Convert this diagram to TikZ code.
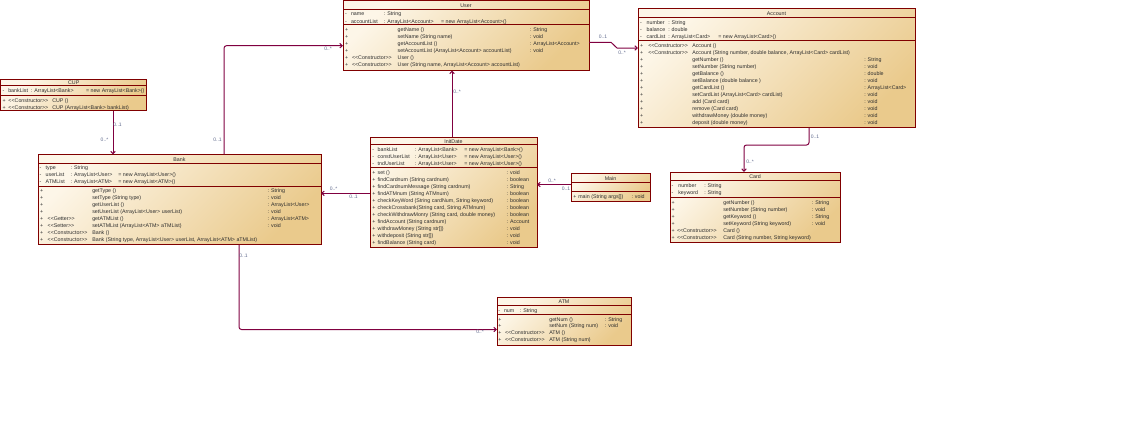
\documentclass[tikz,border=0pt]{standalone}
\usepackage{fontspec}
\setmainfont{Liberation Sans}[Ligatures=TeXOff]
\usetikzlibrary{arrows.meta}
\definecolor{boxred}{RGB}{128,0,0}
\definecolor{fillA}{RGB}{253,246,232}
\definecolor{fillB}{RGB}{234,202,140}
\definecolor{connc}{RGB}{128,0,64}
\definecolor{txtc}{RGB}{45,45,45}
\definecolor{multc}{RGB}{95,105,140}
\newcounter{tno}
\newcommand{\sz}{\fontsize{5.3}{6.5}\selectfont}
\newcommand{\msz}{\fontsize{5}{6}\selectfont}
\newcommand{\tx}[3]{\stepcounter{tno}\node[txt] (t\arabic{tno}) at (#1,#2) {#3};}
\newcommand{\sepl}[2]{\draw[sep] ([yshift=-#2pt]#1.north west) -- ([yshift=-#2pt]#1.north east);}
\tikzset{
  classbox/.style={draw=boxred, line width=0.9pt, top color=fillA, bottom color=fillB, shading angle=45, inner sep=0pt, outer sep=0pt, anchor=north west},
  sep/.style={draw=boxred, line width=0.9pt},
  txt/.style={inner sep=0pt, outer sep=0pt, anchor=mid west, text=txtc, font=\sz},
  ttl/.style={inner sep=0pt, outer sep=0pt, anchor=mid, text=txtc, font=\sz},
  conn/.style={draw=connc, line width=1pt, rounded corners=2.5pt, -{Straight Barb[length=2.5pt,width=4.5pt]}},
  mult/.style={inner sep=0pt, outer sep=0pt, text=multc, font=\msz}
}
\begin{document}
\begin{tikzpicture}[x=1pt, y=-1pt]
\useasboundingbox (0,0) rectangle (1145,432);

% ---------- boxes ----------
\node[classbox, minimum width=246pt, minimum height=70pt] (user) at (343,0.5) {};
\node[classbox, minimum width=277pt, minimum height=119pt] (account) at (638,8.5) {};
\node[classbox, minimum width=146pt, minimum height=31.5pt] (cup) at (0.7,79) {};
\node[classbox, minimum width=283pt, minimum height=90pt] (bank) at (38,154.5) {};
\node[classbox, minimum width=167pt, minimum height=110pt] (initdate) at (370,137) {};
\node[classbox, minimum width=79pt, minimum height=28pt] (main) at (571,173.5) {};
\node[classbox, minimum width=170pt, minimum height=70.5pt] (card) at (670,172) {};
\node[classbox, minimum width=134pt, minimum height=48pt] (atm) at (497,297) {};

\sepl{user}{8.5}\sepl{user}{23.8}
\sepl{account}{8.8}\sepl{account}{32.2}
\sepl{cup}{6}\sepl{cup}{16}
\sepl{bank}{8.8}\sepl{bank}{31.8}
\sepl{initdate}{7.3}\sepl{initdate}{30.7}
\sepl{main}{8.8}\sepl{main}{17.5}
\sepl{card}{8}\sepl{card}{25.5}
\sepl{atm}{8}\sepl{atm}{17.3}

% ---------- User ----------
\node[ttl] (userT) at (466,4.7) {User};
\tx{345}{13.3}{-}\tx{351}{13.3}{name}\tx{384}{13.3}{: String}
\tx{345}{20.7}{-}\tx{351}{20.7}{accountList}\tx{384}{20.7}{: ArrayList<Account>}\tx{441}{20.7}{= new ArrayList<Account>()}
\foreach \yy in {29,36,43,50,57,64}{\tx{345}{\yy}{+}}
\tx{397.7}{29}{getName ()}\tx{530}{29}{: String}
\tx{397.7}{36}{setName (String name)}\tx{530}{36}{: void}
\tx{397.7}{43}{getAccountList ()}\tx{530}{43}{: ArrayList<Account>}
\tx{397.7}{50}{setAccountList (ArrayList<Account> accountList)}\tx{530}{50}{: void}
\tx{352}{57}{<<Constructor>>}\tx{397.7}{57}{User ()}
\tx{352}{64}{<<Constructor>>}\tx{397.7}{64}{User (String name, ArrayList<Account> accountList)}

% ---------- Account ----------
\node[ttl] (accountT) at (776.5,13) {Account};
\tx{640}{21.7}{-}\tx{646.7}{21.7}{number}\tx{668.3}{21.7}{: String}
\tx{640}{29}{-}\tx{646.7}{29}{balance}\tx{668.3}{29}{: double}
\tx{640}{36}{-}\tx{646.7}{36}{cardList}\tx{668.3}{36}{: ArrayList<Card>}\tx{718.3}{36}{= new ArrayList<Card>()}
\foreach \yy in {45.3,52.3,59.3,66.3,73.3,80.3,87.3,94.3,101.3,108.3,115.3,122.3}{\tx{640}{\yy}{+}}
\tx{648.3}{45.3}{<<Constructor>>}\tx{692.3}{45.3}{Account ()}
\tx{648.3}{52.3}{<<Constructor>>}\tx{692.3}{52.3}{Account (String number, double balance, ArrayList<Card> cardList)}
\tx{692.3}{59.3}{getNumber ()}\tx{864.3}{59.3}{: String}
\tx{692.3}{66.3}{setNumber (String number)}\tx{864.3}{66.3}{: void}
\tx{692.3}{73.3}{getBalance ()}\tx{864.3}{73.3}{: double}
\tx{692.3}{80.3}{setBalance (double balance )}\tx{864.3}{80.3}{: void}
\tx{692.3}{87.3}{getCardList ()}\tx{864.3}{87.3}{: ArrayList<Card>}
\tx{692.3}{94.3}{setCardList (ArrayList<Card> cardList)}\tx{864.3}{94.3}{: void}
\tx{692.3}{101.3}{add (Card card)}\tx{864.3}{101.3}{: void}
\tx{692.3}{108.3}{remove (Card card)}\tx{864.3}{108.3}{: void}
\tx{692.3}{115.3}{withdrawMoney (double money)}\tx{864.3}{115.3}{: void}
\tx{692.3}{122.3}{deposit (double money)}\tx{864.3}{122.3}{: void}

% ---------- CUP ----------
\node[ttl] (cupT) at (73.7,82) {CUP};
\tx{2.7}{90}{-}\tx{8.3}{90}{bankList}\tx{31}{90}{: ArrayList<Bank>}\tx{86}{90}{= new ArrayList<Bank>()}
\tx{2.5}{100}{+}\tx{8.5}{100}{<<Constructor>>}\tx{52.3}{100}{CUP ()}
\tx{2.5}{107}{+}\tx{8.5}{107}{<<Constructor>>}\tx{52.3}{107}{CUP (ArrayList<Bank> bankList)}

% ---------- Bank ----------
\node[ttl] (bankT) at (179.5,158.7) {Bank};
\tx{39.5}{167}{-}\tx{45.7}{167}{type}\tx{70.7}{167}{: String}
\tx{39.5}{174}{-}\tx{45.7}{174}{userList}\tx{70.7}{174}{: ArrayList<User>}\tx{118.3}{174}{= new ArrayList<User>()}
\tx{39.5}{181}{-}\tx{45.7}{181}{ATMList}\tx{70.7}{181}{: ArrayList<ATM>}\tx{118.3}{181}{= new ArrayList<ATM>()}
\foreach \yy in {190,197,204,211,218,225,232,239}{\tx{40}{\yy}{+}}
\tx{92.3}{190}{getType ()}\tx{267.7}{190}{: String}
\tx{92.3}{197}{setType (String type)}\tx{267.7}{197}{: void}
\tx{92.3}{204}{getUserList ()}\tx{267.7}{204}{: ArrayList<User>}
\tx{92.3}{211}{setUserList (ArrayList<User> userList)}\tx{267.7}{211}{: void}
\tx{47.7}{218}{<<Getter>>}\tx{92.3}{218}{getATMList ()}\tx{267.7}{218}{: ArrayList<ATM>}
\tx{47.7}{225}{<<Setter>>}\tx{92.3}{225}{setATMList (ArrayList<ATM> aTMList)}\tx{267.7}{225}{: void}
\tx{47.7}{232}{<<Constructor>>}\tx{92.3}{232}{Bank ()}
\tx{47.7}{239}{<<Constructor>>}\tx{92.3}{239}{Bank (String type, ArrayList<User> userList, ArrayList<ATM> aTMList)}

% ---------- InitDate ----------
\node[ttl] (initdateT) at (453.5,140.5) {InitDate};
\tx{372.3}{149}{-}\tx{377.7}{149}{bankList}\tx{415}{149}{: ArrayList<Bank>}\tx{464.3}{149}{= new ArrayList<Bank>()}
\tx{372.3}{156}{-}\tx{377.7}{156}{constUserList}\tx{415}{156}{: ArrayList<User>}\tx{464.3}{156}{= new ArrayList<User>()}
\tx{372.3}{163}{-}\tx{377.7}{163}{tndUserList}\tx{415}{163}{: ArrayList<User>}\tx{464.3}{163}{= new ArrayList<User>()}
\foreach \yy in {172,179,186,193,200,207,214,221,228,235,242}{\tx{372.3}{\yy}{+}}
\tx{377.7}{172}{set ()}\tx{506.7}{172}{: void}
\tx{377.7}{179}{findCardnum (String cardnum)}\tx{506.7}{179}{: boolean}
\tx{377.7}{186}{findCardnumMessage (String cardnum)}\tx{506.7}{186}{: String}
\tx{377.7}{193}{findATMnum (String ATMnum)}\tx{506.7}{193}{: boolean}
\tx{377.7}{200}{checkKeyWord (String cardNum, String keyword)}\tx{506.7}{200}{: boolean}
\tx{377.7}{207}{checkCrossbank(String card, String ATMnum)}\tx{506.7}{207}{: boolean}
\tx{377.7}{214}{checkWithdrawMonry (String card, double money)}\tx{506.7}{214}{: boolean}
\tx{377.7}{221}{findAccount (String cardnum)}\tx{506.7}{221}{: Account}
\tx{377.7}{228}{withdrawMoney (String str[])}\tx{506.7}{228}{: void}
\tx{377.7}{235}{withdeposit (String str[])}\tx{506.7}{235}{: void}
\tx{377.7}{242}{findBalance (String card)}\tx{506.7}{242}{: void}

% ---------- Main ----------
\node[ttl] (mainT) at (610.5,177.5) {Main};
\tx{573.3}{195.5}{+}\tx{578.3}{195.5}{main (String args[])}\tx{631.5}{195.5}{: void}

% ---------- Card ----------
\node[ttl] (cardT) at (755,176) {Card};
\tx{671.7}{185}{-}\tx{678.3}{185}{number}\tx{704.3}{185}{: String}
\tx{671.7}{192}{-}\tx{678.3}{192}{keyword}\tx{704.3}{192}{: String}
\foreach \yy in {201.5,208.5,215.5,222.5,229.5,236.5}{\tx{671.7}{\yy}{+}}
\tx{723.3}{201.5}{getNumber ()}\tx{812}{201.5}{: String}
\tx{723.3}{208.5}{setNumber (String number)}\tx{812}{208.5}{: void}
\tx{723.3}{215.5}{getKeyword ()}\tx{812}{215.5}{: String}
\tx{723.3}{222.5}{setKeyword (String keyword)}\tx{812}{222.5}{: void}
\tx{677}{229.5}{<<Constructor>>}\tx{723.3}{229.5}{Card ()}
\tx{677}{236.5}{<<Constructor>>}\tx{723.3}{236.5}{Card (String number, String keyword)}

% ---------- ATM ----------
\node[ttl] (atmT) at (564,300.7) {ATM};
\tx{498.3}{310}{-}\tx{504}{310}{num}\tx{520}{310}{: String}
\foreach \yy in {318.5,325.2,331.9,338.6}{\tx{498.3}{\yy}{+}}
\tx{549.3}{318.5}{getNum ()}\tx{605}{318.5}{: String}
\tx{549.3}{325.2}{setNum (String num)}\tx{605}{325.2}{: void}
\tx{505}{331.9}{<<Constructor>>}\tx{549.3}{331.9}{ATM ()}
\tx{505}{338.6}{<<Constructor>>}\tx{549.3}{338.6}{ATM (String num)}

% ---------- connectors ----------
% Bank -> User
\coordinate (bu) at ([xshift=186pt]bank.north west);
\coordinate (ub) at ([yshift=-45.2pt]user.north west);
\draw[conn] (bu) |- (ub);
\node[mult] (m1) at (217.5,139.5) {0..1};
\node[mult] (m2) at (328,49) {0..*};
% CUP -> Bank
\coordinate (cb) at ([xshift=112.3pt]cup.south west);
\draw[conn] (cb) -- (cb |- bank.north);
\node[mult] (m3) at (117.5,124.5) {0..1};
\node[mult] (m4) at (104.5,140) {0..*};
% User -> Account
\coordinate (ua) at ([yshift=-41.8pt]user.north east);
\coordinate (au) at ([yshift=-39.5pt]account.north west);
\draw[conn, rounded corners=0pt] (ua) -- ++(22,0) -- ([xshift=-21pt]au) -- (au);
\node[mult] (m5) at (603,37) {0..1};
\node[mult] (m6) at (622,53) {0..*};
% Account -> Card
\coordinate (ac) at ([xshift=171pt]account.south west);
\coordinate (ca) at ([xshift=74pt]card.north west);
\draw[conn] (ac) -- ++(0,17.5) -| (ca);
\node[mult] (m7) at (815,137) {0..1};
\node[mult] (m8) at (750,162) {0..*};
% InitDate -> Bank
\coordinate (ib) at ([yshift=-56.3pt]initdate.north west);
\draw[conn] (ib) -- (ib -| bank.east);
\node[mult] (m9) at (333.5,189) {0..*};
\node[mult] (m10) at (353.5,197) {0..1};
% InitDate -> User
\coordinate (iu) at ([xshift=82pt]initdate.north west);
\draw[conn] (iu) -- (iu |- user.south);
\node[mult] (m11) at (457,92) {0..*};
% Main -> InitDate
\coordinate (mi) at ([yshift=-11pt]main.north west);
\draw[conn] (mi) -- (mi -| initdate.east);
\node[mult] (m12) at (552,181) {0..*};
\node[mult] (m13) at (566,189) {0..1};
% Bank -> ATM
\coordinate (ba) at ([xshift=201pt]bank.south west);
\coordinate (ab) at ([yshift=-32.5pt]atm.north west);
\draw[conn] (ba) |- (ab);
\node[mult] (m14) at (243.5,256) {0..1};
\node[mult] (m15) at (480,331.5) {0..*};
\end{tikzpicture}
\end{document}
